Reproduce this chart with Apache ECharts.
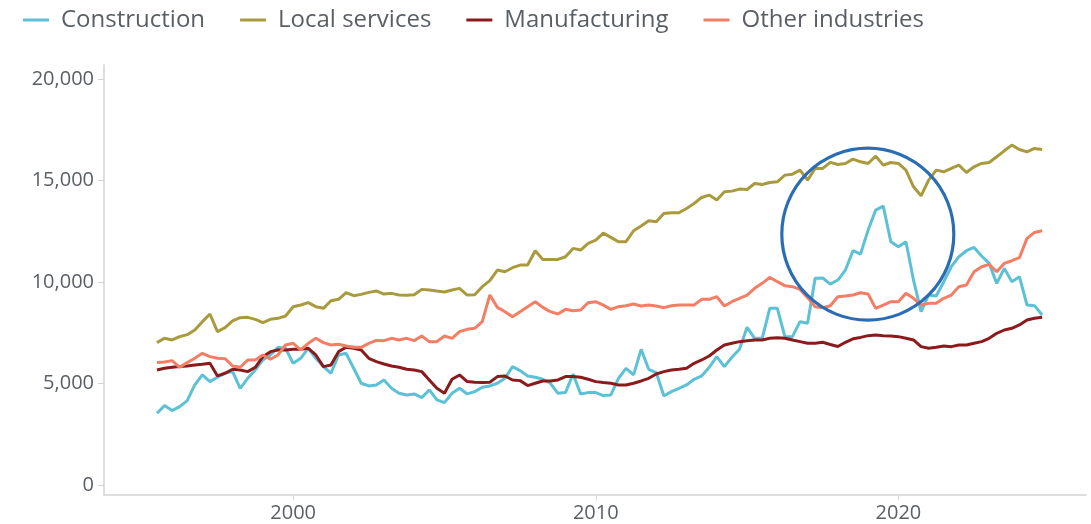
<!DOCTYPE html>
<html>
<head>
<meta charset="utf-8">
<script src="https://cdn.jsdelivr.net/npm/echarts@6/dist/echarts.min.js"></script>
<style>
html,body{margin:0;padding:0;background:#fff;}
#chart{width:1091px;height:524px;}
</style>
</head>
<body>
<div id="chart"></div>
<script>
// Quarterly observations, first quarter = 1995.5, step 0.25 year
const startYear = 1995.5;
const step = 0.25;
const seriesNames = ['Construction', 'Local services', 'Manufacturing', 'Other industries'];
const construction = [
  3530, 3908, 3662, 3859, 4154, 4926, 5419, 5090, 5304, 5501, 5583, 4761, 5254, 5665, 6158, 6404, 6781, 6732, 5993, 6240, 6732, 6240, 5830, 5501, 6404, 6486, 5747, 5008, 4877, 4926,
  5172, 4761, 4515, 4433, 4483, 4302, 4680, 4187, 4056, 4515, 4761, 4483, 4598, 4811, 4877, 5008, 5254, 5830, 5632, 5369, 5304, 5205, 5008, 4515, 4548, 5468, 4483, 4548, 4548, 4400,
  4433, 5254, 5747, 5419, 6683, 5698, 5534, 4384, 4598, 4761, 4926, 5205, 5369, 5797, 6322, 5830, 6289, 6683, 7767, 7225, 7225, 8703, 8703, 7307, 7307, 8046, 7964, 10181, 10200, 9900,
  10098, 10591, 11543, 11379, 12561, 13546, 13743, 11987, 11740, 11987, 10098, 8538, 9359, 9310, 10017, 10755, 11248, 11543, 11707, 11281, 10920, 9934, 10673, 10017, 10263, 8867, 8834, 8374
];
const localServices = [
  7010, 7225, 7143, 7307, 7405, 7635, 8046, 8423, 7553, 7750, 8079, 8243, 8259, 8161, 7997, 8161, 8210, 8325, 8784, 8867, 8982, 8784, 8703, 9080, 9146, 9474, 9326, 9392, 9490, 9560,
  9409, 9441, 9359, 9343, 9376, 9638, 9606, 9556, 9507, 9606, 9688, 9359, 9376, 9770, 10066, 10591, 10509, 10706, 10837, 10837, 11543, 11116, 11116, 11116, 11248, 11658, 11576, 11904, 12069, 12410,
  12200, 11987, 11987, 12528, 12758, 13021, 12971, 13382, 13415, 13415, 13628, 13874, 14170, 14285, 14039, 14449, 14482, 14581, 14564, 14860, 14811, 14909, 14942, 15270, 15319, 15516, 15024, 15599, 15600, 15900,
  15796, 15845, 16059, 15927, 15845, 16207, 15763, 15894, 15845, 15517, 14696, 14252, 15024, 15517, 15435, 15599, 15763, 15402, 15680, 15845, 15894, 16174, 16469, 16748, 16535, 16420, 16584, 16535
];
const manufacturing = [
  5665, 5747, 5797, 5830, 5862, 5911, 5944, 5993, 5369, 5501, 5698, 5665, 5583, 5797, 6322, 6568, 6650, 6650, 6683, 6683, 6732, 6404, 5830, 5911, 6568, 6781, 6732, 6650, 6240, 6076,
  5961, 5862, 5797, 5698, 5665, 5583, 5172, 4761, 4515, 5205, 5419, 5090, 5057, 5041, 5057, 5337, 5369, 5172, 5139, 4893, 5008, 5123, 5123, 5172, 5337, 5337, 5304, 5205, 5090, 5041,
  5008, 4926, 4926, 5008, 5123, 5254, 5468, 5583, 5665, 5698, 5747, 5993, 6158, 6355, 6650, 6896, 6978, 7061, 7110, 7143, 7143, 7225, 7258, 7225, 7143, 7061, 6978, 6978, 7030, 6920,
  6820, 7030, 7200, 7270, 7356, 7389, 7356, 7340, 7307, 7225, 7143, 6814, 6732, 6781, 6847, 6814, 6896, 6896, 6978, 7061, 7225, 7470, 7635, 7717, 7882, 8128, 8210, 8259
];
const otherIndustries = [
  6027, 6059, 6125, 5797, 6027, 6240, 6486, 6322, 6240, 6223, 5862, 5797, 6158, 6158, 6404, 6191, 6404, 6896, 6978, 6650, 6978, 7225, 7011, 6896, 6929, 6847, 6781, 6781, 6978, 7120,
  7110, 7225, 7143, 7225, 7110, 7340, 7061, 7061, 7340, 7225, 7553, 7668, 7717, 8046, 9359, 8751, 8538, 8292, 8538, 8785, 9031, 8751, 8538, 8423, 8653, 8587, 8620, 8982, 9031, 8860,
  8653, 8785, 8834, 8916, 8818, 8867, 8818, 8736, 8834, 8867, 8867, 8867, 9146, 9146, 9277, 8818, 9031, 9195, 9359, 9688, 9934, 10230, 10017, 9819, 9770, 9638, 9230, 8785, 8730, 8830,
  9277, 9310, 9359, 9474, 9409, 8703, 8867, 9031, 9031, 9441, 9195, 8867, 8949, 8949, 9195, 9359, 9770, 9852, 10509, 10755, 10870, 10509, 10920, 11051, 11198, 12151, 12446, 12528
];
const xTicks = [2000, 2010, 2020];
const yTicks = [0, 5000, 10000, 15000, 20000];
// highlight circle centre in data units
const highlightCentre = [2018.99, 12360];

const colors = ['#5cc1d6', '#a99a3e', '#8b1a1c', '#f47e65'];
const allValues = [construction, localServices, manufacturing, otherIndustries];
function toPairs(arr) { return arr.map((v, i) => [startYear + i * step, v]); }

const textColor = '#5a5f66';
const font = 'Open Sans';
const chart = echarts.init(document.getElementById('chart'), null, {renderer: 'canvas'});
chart.setOption({
  animation: false,
  color: colors,
  textStyle: {fontFamily: font},
  legend: {
    left: 18, top: 3,
    icon: 'rect', itemWidth: 26, itemHeight: 3, itemGap: 35,
    textStyle: {fontFamily: font, fontSize: 24, color: textColor, padding: [0, 0, 0, 7]},
    data: seriesNames
  },
  grid: {left: 104, right: 5, top: 65, bottom: 29},
  xAxis: {
    type: 'value', min: 1993.75, max: 2026.2,
    axisLine: {show: true, onZero: false, lineStyle: {color: '#d3d3d3', width: 1.5}},
    axisTick: {show: true, length: 5, customValues: xTicks, lineStyle: {color: '#d3d3d3'}},
    axisLabel: {customValues: xTicks, color: textColor, fontFamily: font, fontSize: 20, margin: 8,
      formatter: v => String(v)},
    splitLine: {show: false}
  },
  yAxis: {
    type: 'value', min: -500, max: 20700,
    axisLine: {show: true, lineStyle: {color: '#d3d3d3', width: 1.5}},
    axisTick: {show: true, length: 6, customValues: yTicks, lineStyle: {color: '#d3d3d3'}},
    axisLabel: {customValues: yTicks, color: textColor, fontFamily: font, fontSize: 20, margin: 10,
      formatter: v => v.toLocaleString('en-US')},
    splitLine: {show: false}
  },
  series: seriesNames.map((n, i) => ({
    name: n, type: 'line', data: toPairs(allValues[i]),
    showSymbol: false, symbol: 'none',
    lineStyle: {width: 3, color: colors[i]},
    itemStyle: {color: colors[i]},
    z: 2
  }))
});
const c = chart.convertToPixel({gridIndex: 0}, highlightCentre);
chart.setOption({
  graphic: [{
    type: 'circle', shape: {cx: c[0], cy: c[1], r: 86},
    style: {fill: 'none', stroke: '#2b6db4', lineWidth: 3.2}, z: 100
  }]
});
</script>
</body>
</html>
